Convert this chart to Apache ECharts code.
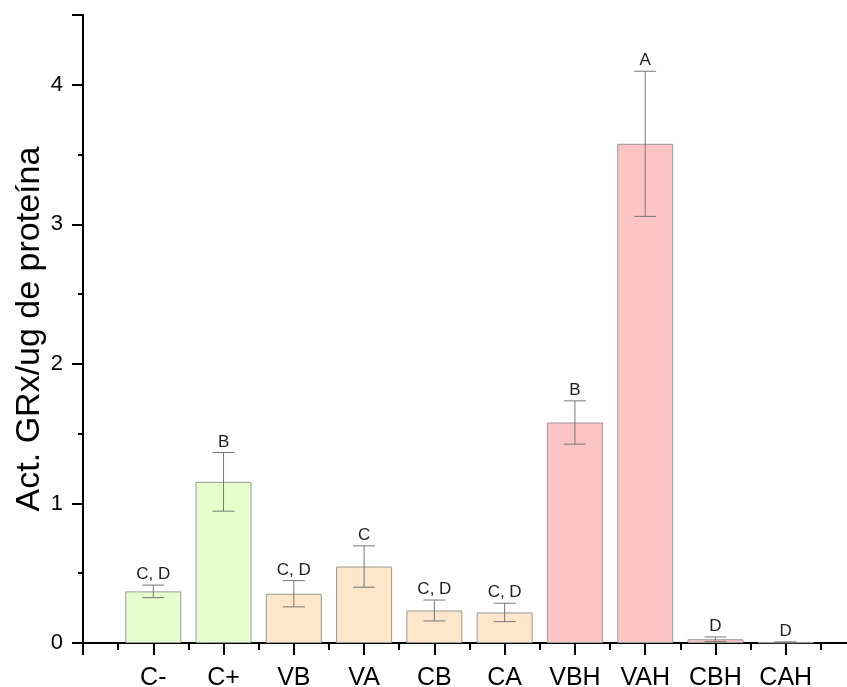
<!DOCTYPE html>
<html>
<head>
<meta charset="utf-8">
<script src="https://cdn.jsdelivr.net/npm/echarts@6/dist/echarts.min.js"></script>
<style>
  html, body { margin: 0; padding: 0; background: #fff; }
  #chart { width: 847px; height: 687px; }
</style>
</head>
<body>
<div id="chart"></div>
<script>
// datos
var categories = ['C-', 'C+', 'VB', 'VA', 'CB', 'CA', 'VBH', 'VAH', 'CBH', 'CAH'];
var values = [0.37, 1.155, 0.353, 0.548, 0.233, 0.219, 1.58, 3.577, 0.027, 0.005];
var errors = [0.045, 0.21, 0.094, 0.148, 0.075, 0.066, 0.155, 0.52, 0.016, 0.003];
var letters = ['C, D', 'B', 'C, D', 'C', 'C, D', 'C, D', 'B', 'A', 'D', 'D'];
var groups = ['ctrl', 'ctrl', 'trat', 'trat', 'trat', 'trat', 'h', 'h', 'h', 'h'];
var yTicks = [0, 1, 2, 3, 4];

var groupColors = { ctrl: '#e6fdcc', trat: '#fde6c9', h: '#fcc4c4' };

var barData = values.map(function (v, i) {
  return {
    value: [i + 1, v],
    itemStyle: { color: groupColors[groups[i]] }
  };
});
var errData = values.map(function (v, i) {
  return [i + 1, v - errors[i], v + errors[i], letters[i]];
});

var myChart = echarts.init(document.getElementById('chart'));
var option = {
  animation: false,
  grid: { left: 83, right: -9, top: 15, bottom: 44, containLabel: false, outerBoundsMode: 'none' },
  xAxis: {
    type: 'value',
    min: 0,
    max: 11,
    interval: 1,
    splitLine: { show: false },
    axisLine: { onZero: false, lineStyle: { color: '#000', width: 2 } },
    axisTick: { length: 12, lineStyle: { color: '#000', width: 2 } },
    minorTick: { show: true, splitNumber: 2, length: 7, lineStyle: { color: '#000', width: 2 } },
    axisLabel: {
      margin: 23,
      fontSize: 25,
      color: '#000',
      fontFamily: 'Liberation Sans, Arial',
      showMinLabel: true,
      showMaxLabel: false,
      formatter: function (v) {
        var i = Math.round(v);
        if (Math.abs(v - i) > 1e-6) return '';
        return categories[i - 1] || '';
      }
    }
  },
  yAxis: {
    type: 'value',
    min: 0,
    max: 4.5,
    interval: 1,
    name: 'Act. GRx/ug de proteína',
    nameLocation: 'middle',
    nameGap: 36,
    nameMoveOverlap: false,
    nameTextStyle: { fontSize: 34, color: '#000', fontFamily: 'Liberation Sans, Arial' },
    splitLine: { show: false },
    axisLine: { show: true, lineStyle: { color: '#000', width: 2 } },
    axisTick: { show: true, length: 11, lineStyle: { color: '#000', width: 2 } },
    minorTick: { show: true, splitNumber: 2, length: 5, lineStyle: { color: '#000', width: 2 } },
    axisLabel: {
      margin: 20,
      fontSize: 22,
      color: '#000',
      fontFamily: 'Liberation Sans, Arial',
      formatter: function (v) {
        return yTicks.indexOf(v) >= 0 ? String(v) : '';
      }
    }
  },
  series: [
    {
      type: 'bar',
      data: barData,
      barWidth: 56,
      itemStyle: { borderColor: '#9a9a9a', borderWidth: 1 }
    },
    {
      type: 'custom',
      data: errData,
      z: 5,
      renderItem: function (params, api) {
        var x = api.value(0);
        var lo = api.coord([x, api.value(1)]);
        var hi = api.coord([x, api.value(2)]);
        var cap = 11;
        var st = { stroke: '#777', lineWidth: 1 };
        return {
          type: 'group',
          children: [
            { type: 'line', shape: { x1: lo[0], y1: lo[1], x2: hi[0], y2: hi[1] }, style: st },
            { type: 'line', shape: { x1: lo[0] - cap, y1: lo[1], x2: lo[0] + cap, y2: lo[1] }, style: st },
            { type: 'line', shape: { x1: hi[0] - cap, y1: hi[1], x2: hi[0] + cap, y2: hi[1] }, style: st },
            {
              type: 'text',
              x: hi[0],
              y: hi[1] - 2,
              style: {
                text: api.value(3),
                fill: '#222',
                fontSize: 17,
                fontFamily: 'Liberation Sans, Arial',
                align: 'center',
                verticalAlign: 'bottom'
              }
            }
          ]
        };
      }
    }
  ]
};
myChart.setOption(option);
</script>
</body>
</html>
